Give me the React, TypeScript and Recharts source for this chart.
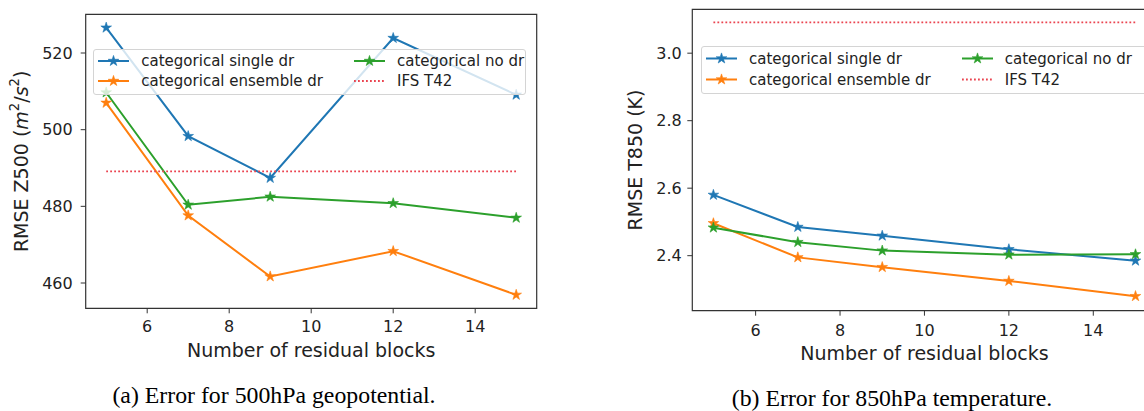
import React from 'react';
import { LineChart, Line, XAxis, YAxis, ReferenceArea } from 'recharts';

// ---------- data ----------
const blocks = [5, 7, 9, 12, 15];

const z500Single = [526.6, 498.3, 487.4, 523.9, 509.1];
const z500Ensemble = [507.0, 477.6, 461.7, 468.3, 456.9];
const z500NoDr = [509.7, 480.4, 482.5, 480.8, 477.0];
const z500Ifs = [489.1, 489.1, 489.1, 489.1, 489.1];

const t850Single = [2.58, 2.485, 2.459, 2.419, 2.385];
const t850Ensemble = [2.496, 2.395, 2.366, 2.325, 2.28];
const t850NoDr = [2.483, 2.44, 2.415, 2.403, 2.404];
const t850Ifs = [3.091, 3.091, 3.091, 3.091, 3.091];

const xTicks = [6, 8, 10, 12, 14];
const z500Ticks = [460, 480, 500, 520];
const t850Ticks = [2.4, 2.6, 2.8, 3.0];

const xDomain = [4.5, 15.5];
const z500Domain = [453.4, 530.1];
const t850Domain = [2.237, 3.13];

const seriesKeys = ['single', 'ensemble', 'nodr', 'ifs'];
const seriesNames = ['categorical single dr', 'categorical ensemble dr', 'categorical no dr', 'IFS T42'];
const seriesColors = ['#1f77b4', '#ff7f0e', '#2ca02c', '#ea4450'];

const xLabel = 'Number of residual blocks';
const captionA = '(a) Error for 500hPa geopotential.';
const captionB = '(b) Error for 850hPa temperature.';

const z500Rows = blocks.map((x, i) => ({
  x,
  single: z500Single[i],
  ensemble: z500Ensemble[i],
  nodr: z500NoDr[i],
  ifs: z500Ifs[i],
}));
const t850Rows = blocks.map((x, i) => ({
  x,
  single: t850Single[i],
  ensemble: t850Ensemble[i],
  nodr: t850NoDr[i],
  ifs: t850Ifs[i],
}));

const FONT = '"DejaVu Sans", Verdana, sans-serif';
const SERIF = '"Liberation Serif", "Times New Roman", serif';
const TEXT = '#222';
const AXIS = '#333';
const DOTS = '1.8 2.2';

function starPath(cx: number, cy: number, R: number) {
  const r = R * 0.382;
  let d = '';
  for (let k = 0; k < 10; k++) {
    const a = -Math.PI / 2 + (k * Math.PI) / 5;
    const rad = k % 2 === 0 ? R : r;
    const px = cx + rad * Math.cos(a);
    const py = cy + rad * Math.sin(a);
    d += (k === 0 ? 'M' : 'L') + px.toFixed(2) + ',' + py.toFixed(2);
  }
  return d + 'Z';
}

const makeDot = (color: string) => (props: any) => {
  const { cx, cy, index } = props;
  if (cx == null || cy == null) return <g key={`d-${index}`} />;
  return (
    <path
      key={`d-${index}`}
      d={starPath(cx, cy, 5.6)}
      fill={color}
      stroke={color}
      strokeWidth={0.6}
      strokeLinejoin="miter"
    />
  );
};

const YLabel = (props: any) => {
  const { viewBox, offsetFromPlot, kind } = props;
  const cx = viewBox.x + viewBox.width - offsetFromPlot;
  const cy = viewBox.y + viewBox.height / 2;
  return (
    <text
      x={cx}
      y={cy}
      transform={`rotate(-90, ${cx}, ${cy})`}
      textAnchor="middle"
      dominantBaseline="central"
      fontFamily={FONT}
      fontSize={19}
      fill={TEXT}
    >
      {kind === 'z500' ? (
        <>
          <tspan>RMSE Z500 (</tspan>
          <tspan fontStyle="italic">m</tspan>
          <tspan dy={-7} fontSize={13.3}>2</tspan>
          <tspan dy={7}>/</tspan>
          <tspan fontStyle="italic">s</tspan>
          <tspan dy={-7} fontSize={13.3}>2</tspan>
          <tspan dy={7}>)</tspan>
        </>
      ) : (
        <tspan>RMSE T850 (K)</tspan>
      )}
    </text>
  );
};

const XLabel = (props: any) => {
  const { viewBox, dyCenter } = props;
  const cx = viewBox.x + viewBox.width / 2;
  const cy = viewBox.y + dyCenter;
  return (
    <text
      x={cx}
      y={cy}
      textAnchor="middle"
      dominantBaseline="central"
      fontFamily={FONT}
      fontSize={19}
      fill={TEXT}
    >
      {xLabel}
    </text>
  );
};

const LegendBox = ({ style, rowH }: { style: React.CSSProperties; rowH: number }) => {
  const cols = [
    [0, 1],
    [2, 3],
  ];
  return (
    <div
      style={{
        position: 'absolute',
        boxSizing: 'border-box',
        border: '1px solid #d4d4d4',
        borderRadius: 3,
        background: 'rgba(255,255,255,0.8)',
        display: 'flex',
        paddingLeft: 4,
        paddingTop: 1,
        columnGap: 31,
        fontFamily: FONT,
        fontSize: 15,
        color: TEXT,
        ...style,
      }}
    >
      {cols.map((col, ci) => (
        <div key={ci} style={{ display: 'flex', flexDirection: 'column' }}>
          {col.map((si) => (
            <div key={si} style={{ display: 'flex', alignItems: 'center', height: rowH, whiteSpace: 'nowrap' }}>
              <svg width={31} height={rowH} style={{ display: 'block' }}>
                <line
                  x1={0}
                  x2={31}
                  y1={rowH / 2}
                  y2={rowH / 2}
                  stroke={seriesColors[si]}
                  strokeWidth={si === 3 ? 1.8 : 2}
                  strokeDasharray={si === 3 ? DOTS : undefined}
                />
                {si !== 3 && (
                  <path d={starPath(15.5, rowH / 2, 5.6)} fill={seriesColors[si]} stroke={seriesColors[si]} strokeWidth={0.6} />
                )}
              </svg>
              <span style={{ marginLeft: 12 }}>{seriesNames[si]}</span>
            </div>
          ))}
        </div>
      ))}
    </div>
  );
};

const tickStyle = { fontFamily: FONT, fontSize: 16, fill: TEXT };

function Panel({
  rows,
  yDomain,
  yTicks,
  kind,
  width,
  height,
  margin,
  yAxisWidth,
  yTickMargin,
  xTickMargin,
  yLabelOffset,
  xLabelDy,
  fmt,
}: any) {
  return (
    <LineChart width={width} height={height} data={rows} margin={margin}>
      <XAxis
        dataKey="x"
        type="number"
        domain={xDomain}
        ticks={xTicks}
        allowDataOverflow
        axisLine={false}
        tickLine={{ stroke: AXIS, strokeWidth: 1 }}
        tickSize={5}
        tickMargin={xTickMargin}
        tick={tickStyle}
        height={50}
        label={<XLabel dyCenter={xLabelDy} />}
      />
      <YAxis
        type="number"
        domain={yDomain}
        ticks={yTicks}
        allowDataOverflow
        axisLine={false}
        tickLine={{ stroke: AXIS, strokeWidth: 1 }}
        tickSize={5}
        tickMargin={yTickMargin}
        tick={tickStyle}
        tickFormatter={fmt}
        width={yAxisWidth}
        label={<YLabel offsetFromPlot={yLabelOffset} kind={kind} />}
      />
      <ReferenceArea
        x1={xDomain[0]}
        x2={xDomain[1]}
        y1={yDomain[0]}
        y2={yDomain[1]}
        fill="none"
        fillOpacity={0}
        stroke={AXIS}
        strokeWidth={1.2}
        ifOverflow="visible"
      />
      {seriesKeys.map((k, i) =>
        k === 'ifs' ? (
          <Line
            key={k}
            dataKey={k}
            stroke={seriesColors[i]}
            strokeWidth={1.8}
            strokeDasharray={DOTS}
            dot={false}
            activeDot={false}
            isAnimationActive={false}
          />
        ) : (
          <Line
            key={k}
            dataKey={k}
            stroke={seriesColors[i]}
            strokeWidth={2}
            dot={makeDot(seriesColors[i])}
            activeDot={false}
            isAnimationActive={false}
          />
        )
      )}
    </LineChart>
  );
}

const captionStyle: React.CSSProperties = {
  position: 'absolute',
  textAlign: 'center',
  fontFamily: SERIF,
  fontSize: 23.8,
  lineHeight: '24px',
  color: '#000',
  whiteSpace: 'nowrap',
};

export default function App() {
  return (
    <div
      style={{
        position: 'fixed',
        left: 0,
        top: 0,
        width: 1144,
        height: 411,
        overflow: 'hidden',
        background: '#fff',
      }}
    >
      <div style={{ position: 'absolute', left: 0, top: 0, width: 560, height: 370 }}>
        <Panel
          rows={z500Rows}
          yDomain={z500Domain}
          yTicks={z500Ticks}
          kind="z500"
          width={560}
          height={370}
          margin={{ top: 14.3, right: 23.3, left: 25.7, bottom: 11.7 }}
          yAxisWidth={60}
          yTickMargin={8}
          xTickMargin={7}
          yLabelOffset={65}
          xLabelDy={42}
          fmt={(v: number) => String(v)}
        />
      </div>
      <LegendBox style={{ left: 93.3, top: 49.3, width: 433, height: 46 }} rowH={20} />

      <div style={{ position: 'absolute', left: 580, top: 0, width: 600, height: 370 }}>
        <Panel
          rows={t850Rows}
          yDomain={t850Domain}
          yTicks={t850Ticks}
          kind="t850"
          width={600}
          height={370}
          margin={{ top: 9.3, right: 23.4, left: 42.3, bottom: 9.3 }}
          yAxisWidth={70}
          yTickMargin={5.6}
          xTickMargin={8.5}
          yLabelOffset={57.3}
          xLabelDy={42.6}
          fmt={(v: number) => v.toFixed(1)}
        />
      </div>
      <LegendBox style={{ left: 701, top: 46, width: 450, height: 48 }} rowH={21} />

      <div style={{ ...captionStyle, left: 0, width: 548, top: 383 }}>{captionA}</div>
      <div style={{ ...captionStyle, left: 692, width: 400, top: 386 }}>{captionB}</div>
    </div>
  );
}
